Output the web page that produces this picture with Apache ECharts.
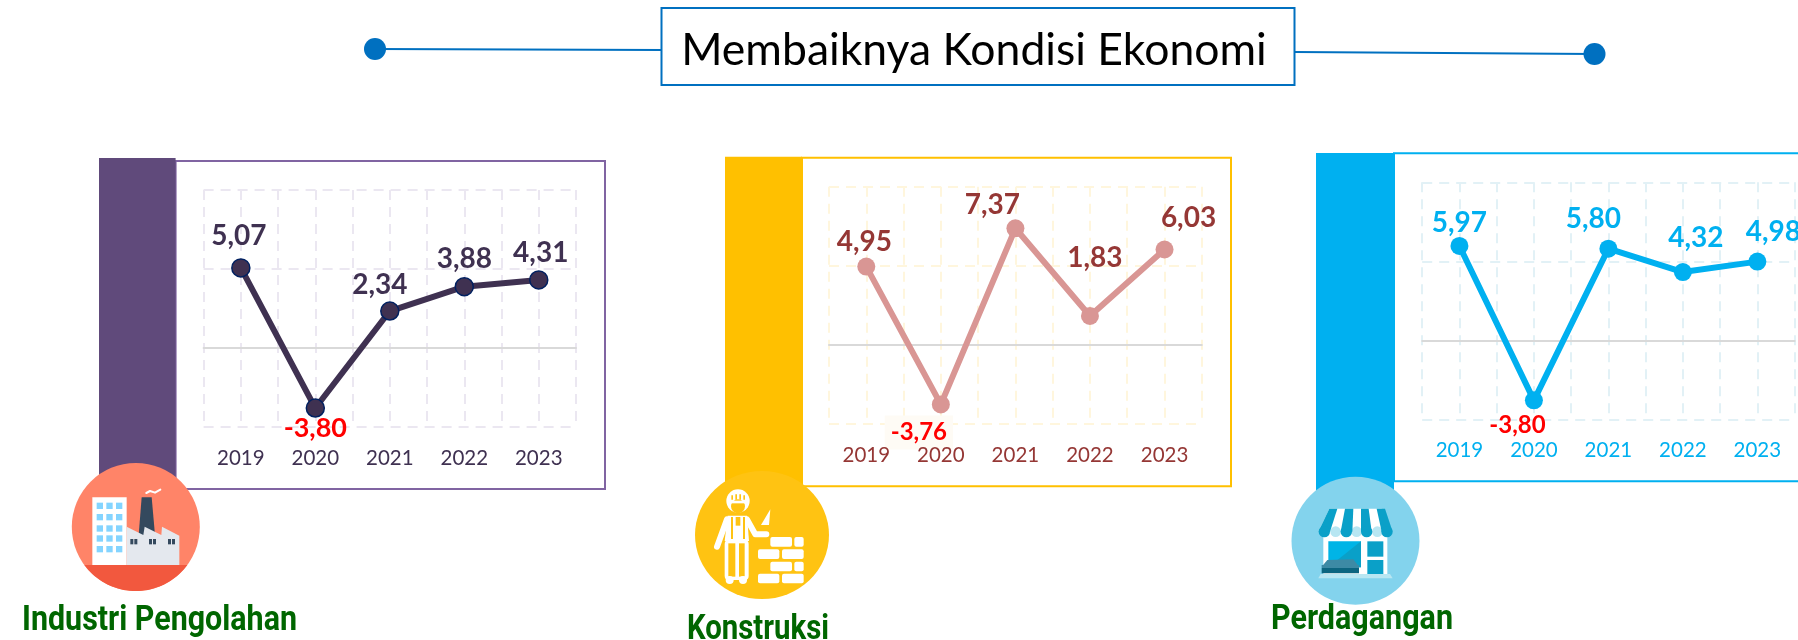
<!DOCTYPE html>
<html><head><meta charset="utf-8">
<style>html,body{margin:0;padding:0;background:#fff;overflow:hidden}#c{width:1798px;height:640px}</style>
<script src="https://cdn.jsdelivr.net/npm/echarts@6/dist/echarts.min.js"></script>
</head><body><div id="c"></div>
<script>
const years = ['2019','2020','2021','2022','2023'];
const industriValues = [5.07,-3.80,2.34,3.88,4.31];
const konstruksiValues = [4.95,-3.76,7.37,1.83,6.03];
const perdaganganValues = [5.97,-3.80,5.80,4.32,4.98];
const panelNames = ['Industri Pengolahan','Konstruksi','Perdagangan'];
const titleText = 'Membaiknya Kondisi Ekonomi';

const labelOffsets = [
  [[-2,-32],[0,20],[-10,-26],[0,-28],[2,-27]],
  [[-2,-25],[-22,28],[-23,-23],[5,-58],[24,-32]],
  [[0,-23],[-16.5,25],[-15,-30],[13,-34],[16,-30]]
];
const panels = [
  {values:industriValues,grid:[203.6,190,372.4,237],band:[99,158,76.6,331],frame:[175.6,161,429.4,328],
   main:'#3f3151',frameColor:'#8064a2',bandColor:'#604a7b',dash:'#ebe7f1',marker:'#3f3151',markerBorder:'#002060',line:'#3f3151',axisText:'#3f3151',neg:27},
  {values:konstruksiValues,grid:[829,186.7,372.8,237.3],band:[725,156.7,77,330],frame:[802,157.7,429,328.6],
   main:'#953735',frameColor:'#ffc000',bandColor:'#ffc000',dash:'#fff6dd',marker:'#d99694',markerBorder:'#d99694',line:'#d99694',axisText:'#953735',neg:24},
  {values:perdaganganValues,grid:[1422.2,182.3,372.4,237],band:[1316,153,78,342],frame:[1394,153.3,420,328],
   main:'#00b0f0',frameColor:'#00b0f0',bandColor:'#00b0f0',dash:'#e2f1f6',marker:'#00b0f0',markerBorder:'#00b0f0',line:'#00b0f0',axisText:'#00b0f0',neg:24}
];

const grids=[],xAxes=[],yAxes=[],series=[];
panels.forEach((p,i)=>{
  grids.push({left:p.grid[0],top:p.grid[1],width:p.grid[2],height:p.grid[3]});
  xAxes.push({type:'category',gridIndex:i,z:10,data:years,position:'bottom',axisLine:{show:false,onZero:false},axisTick:{show:false},
    axisLabel:{color:p.axisText,fontFamily:'Lato',fontSize:20.5,margin:21},splitLine:{show:false}});
  xAxes.push({type:'value',gridIndex:i,min:0,max:10,interval:1,axisLine:{show:true,onZero:true,lineStyle:{color:'#d9d9d9',width:2}},
    axisTick:{show:false},axisLabel:{show:false},splitLine:{show:true,lineStyle:{color:p.dash,type:[10,7],width:2}}});
  yAxes.push({type:'value',gridIndex:i,min:-5,max:10,interval:5,axisLine:{show:false},axisTick:{show:false},axisLabel:{show:false},
    splitLine:{show:true,lineStyle:{color:p.dash,type:[10,7],width:2}}});
  series.push({type:'line',xAxisIndex:i*2,yAxisIndex:i,symbol:'circle',symbolSize:18,showAllSymbol:true,z:5,
    lineStyle:{color:p.line,width:6},itemStyle:{color:p.marker,borderColor:p.markerBorder,borderWidth:i===0?1.5:0},
    data:p.values.map((v,k)=>{
      const neg=v<0;
      const lab={show:true,position:'inside',offset:labelOffsets[i][k],align:'center',verticalAlign:'middle',
        formatter:d=>d.value.toFixed(2).replace('.',','),fontFamily:'Lato',fontWeight:'bold',
        fontSize:neg?p.neg:28,color:neg?'#ff0000':p.main};
      if(neg&&i===1){lab.backgroundColor='#fefbf5';lab.lineHeight=22;lab.padding=[12,6,0,6];}
      return {value:v,label:lab};
    })
  });
});

const gfx=[];
const add=o=>gfx.push(o);
function P(ox,oy,pts){return pts.map(q=>[ox+q[0]/3,oy+q[1]/3]);}
function poly(ox,oy,pts,fill,z){add({type:'polygon',z:z||10,shape:{points:P(ox,oy,pts)},style:{fill:fill}});}
function pl(ox,oy,pts,stroke,w,z){add({type:'polyline',z:z||10,shape:{points:P(ox,oy,pts)},style:{stroke:stroke,fill:'none',lineWidth:w,lineCap:'round',lineJoin:'round'}});}
function box(ox,oy,x,y,w,h,fill,rad,z){add({type:'rect',z:z||10,shape:{x:ox+x/3,y:oy+y/3,width:w/3,height:h/3,r:rad||0},style:{fill:fill}});}
function circ(ox,oy,x,y,r,fill,z){add({type:'circle',z:z||10,shape:{cx:ox+x/3,cy:oy+y/3,r:r/3},style:{fill:fill}});}

// title
add({type:'line',z:1,shape:{x1:375,y1:49,x2:662,y2:50},style:{stroke:'#0070c0',lineWidth:2}});
add({type:'line',z:1,shape:{x1:1295,y1:52,x2:1594,y2:54},style:{stroke:'#0070c0',lineWidth:2}});
add({type:'circle',z:2,shape:{cx:375,cy:49,r:11},style:{fill:'#0070c0'}});
add({type:'circle',z:2,shape:{cx:1594.5,cy:54,r:11},style:{fill:'#0070c0'}});
add({type:'rect',z:2,shape:{x:661.5,y:8,width:633,height:77},style:{fill:'#fff',stroke:'#0070c0',lineWidth:2}});

// bands + frames
panels.forEach(p=>{
  add({type:'rect',z:1,shape:{x:p.frame[0],y:p.frame[1],width:p.frame[2],height:p.frame[3]},style:{fill:'none',stroke:p.frameColor,lineWidth:2}});
  add({type:'rect',z:1,shape:{x:p.band[0],y:p.band[1],width:p.band[2],height:p.band[3]},style:{fill:p.bandColor}});
});

// factory icon
add({type:'circle',z:9,shape:{cx:135.8,cy:527,r:64},style:{fill:'#ff8468'}});
(function(){
  const pts=[],cx=135.8,cy=527,r=64,yc=565;
  const a0=Math.asin((yc-cy)/r);
  for(let k=0;k<=40;k++){const a=a0+(Math.PI-2*a0)*k/40;pts.push([cx+r*Math.cos(a),cy+r*Math.sin(a)]);}
  add({type:'polygon',z:10,shape:{points:pts},style:{fill:'#f2583e'}});
  const ox=60,oy=455;
  box(ox,oy,97,127,103,203,'#ffffff');
  [110,139,168].forEach(x=>[143,177,211,241,273].forEach(y=>box(ox,oy,x,y,19,19,'#84d4ff')));
  poly(ox,oy,[[245,127],[275,127],[285,240],[236,240]],'#34495e');
  poly(ox,oy,[[200,215],[250,240],[254,215],[304,240],[306,215],[358,242],[358,330],[200,330]],'#e4e8ee');
  [211,267,324].forEach(x=>{box(ox,oy,x,252,9,16,'#34495e');box(ox,oy,x+12,252,9,16,'#34495e');});
  pl(ox,oy,[[259,114],[270,108],[285,113],[301,104]],'#ffffff',2);
})();

// worker icon
add({type:'circle',z:9,x:762,y:535,scaleX:67/64,shape:{cx:0,cy:0,r:64},style:{fill:'#ffc312'}});
(function(){
  const ox=687,oy=465,w='#ffffff',y='#ffc312';
  // helmet and face
  circ(ox,oy,153,108,35,w);
  circ(ox,oy,153,124,21,y);
  box(ox,oy,122,107,62,8,w);
  box(ox,oy,133,91,5,13,y);box(ox,oy,145,88,5,16,y);box(ox,oy,157,88,5,16,y);box(ox,oy,169,91,5,13,y);
  // arms
  pl(ox,oy,[[120,163],[90,245]],w,6);
  pl(ox,oy,[[180,163],[205,208],[238,208]],w,6);
  // torso with straps
  poly(ox,oy,[[122,152],[180,152],[186,228],[113,228]],w);
  box(ox,oy,132,156,6,66,y);box(ox,oy,168,156,6,66,y);
  box(ox,oy,146,156,14,26,y);
  // overalls
  box(ox,oy,113,225,72,120,w,4);
  box(ox,oy,124,235,21,100,y);
  box(ox,oy,156,235,17,100,y);
  circ(ox,oy,128,345,12,w);circ(ox,oy,168,345,12,w);
  // trowel
  poly(ox,oy,[[250,133],[222,180],[246,180]],w);
  // bricks
  [[250,216,65],[322,216,28],[213,253,64],[285,253,65],[250,290,65],[322,290,28],[213,326,64],[285,326,65]]
   .forEach(b=>box(ox,oy,b[0],b[1],b[2],29,w,2));
})();

// shop icon
add({type:'circle',z:9,shape:{cx:1355.5,cy:540.7,r:64},style:{fill:'#83d3ed'}});
(function(){
  const ox=1280,oy=470,d='#0aa0c8',w='#ffffff';
  box(ox,oy,130,185,192,127,w);
  box(ox,oy,145,214,98,78,'#00b4e6');
  poly(ox,oy,[[145,292],[243,214],[243,292]],'#0aa0c8');
  box(ox,oy,262,214,48,46,d);box(ox,oy,262,270,48,42,d);
  poly(ox,oy,[[148,116],[305,116],[338,185],[115,185]],w);
  [[165,185],[228,185],[290,185]].forEach(c=>circ(ox,oy,c[0]+2,c[1],16,'#b7e6f2'));
  [[[148,116],[172,116],[150,185],[115,185]],[[195,116],[220,116],[217,185],[182,185]],[[243,116],[266,116],[275,185],[243,185]],[[290,116],[315,116],[338,185],[305,185]]]
    .forEach(s=>poly(ox,oy,s,d));
  [133,199,260,321].forEach(x=>circ(ox,oy,x,185,17,d));
  box(ox,oy,125,285,112,9,'#3d8aa5');
  poly(ox,oy,[[125,290],[142,270],[220,268],[237,290]],'#3d8aa5');
  box(ox,oy,125,294,112,16,'#0c6580');
  poly(ox,oy,[[122,312],[330,312],[338,325],[115,325]],'#b8e6f2');
})();

// panel names, squeezed horizontally to the reference's condensed width
const nameFont='bold 35px Roboto';
const mctx=document.createElement('canvas').getContext('2d');
mctx.font=nameFont;
[[22,638.5,275],[687,648,142],[1271,637.5,182]].forEach((q,i)=>add({type:'text',z:20,x:q[0],y:q[1],
  scaleX:q[2]/mctx.measureText(panelNames[i]).width,
  style:{text:panelNames[i],fill:'#006600',font:nameFont,textAlign:'left',textBaseline:'alphabetic',verticalAlign:'bottom'}}));

const chart=echarts.init(document.getElementById('c'),null,{renderer:'canvas'});
chart.setOption({
  animation:false,backgroundColor:'#ffffff',
  title:{text:titleText,left:969,top:23,textAlign:'center',textStyle:{fontFamily:'Lato',fontWeight:'normal',fontSize:44.5,color:'#000000'},z:30},
  grid:grids,xAxis:xAxes,yAxis:yAxes,series:series,
  graphic:{elements:gfx}
});
</script></body></html>
